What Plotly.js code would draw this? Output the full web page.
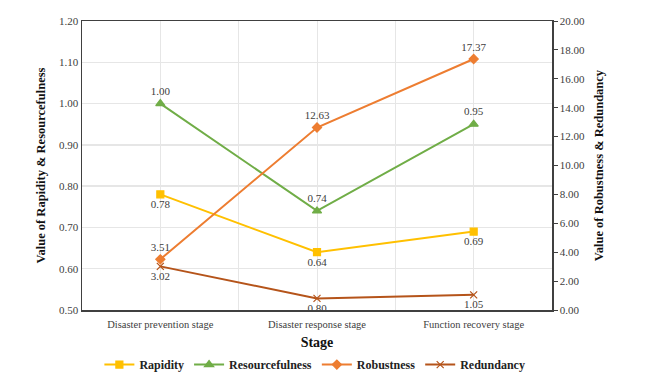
<!DOCTYPE html>
<html>
<head>
<meta charset="utf-8">
<script src="https://cdn.plot.ly/plotly-3.0.1.min.js"></script>
<style>body{margin:0;padding:0;background:#fff;}#chart{width:656px;height:381px;}</style>
</head>
<body>
<div id="chart"></div>
<script>
const stages = ["Disaster prevention stage", "Disaster response stage", "Function recovery stage"];
const stagePos = [0, 1, 2];
const rapidity = [0.78, 0.64, 0.69];
const resourcefulness = [1.00, 0.74, 0.95];
const robustness = [3.51, 12.63, 17.37];
const redundancy = [3.02, 0.80, 1.05];
const leftTicks = [0.5, 0.6, 0.7, 0.8, 0.9, 1.0, 1.1, 1.2];
const rightTicks = [0, 2, 4, 6, 8, 10, 12, 14, 16, 18, 20];

const fmt = v => v.toFixed(2);
const labelFont = {family: "Liberation Serif", size: 11, color: "#404040"};

function series(name, y, color, symbol, pos, axis, msize) {
  return {
    x: stagePos, y: y, name: name, type: "scatter", mode: "lines+markers+text",
    yaxis: axis,
    line: {color: color, width: 2},
    marker: {color: color, symbol: symbol, size: msize, line: {color: color, width: 1.2}},
    text: y.map(fmt), textposition: pos, textfont: labelFont,
    cliponaxis: false
  };
}

const data = [
  series("Rapidity", rapidity, "#FFC000", "square", "bottom center", "y", 7),
  series("Resourcefulness", resourcefulness, "#70AD47", "triangle-up", "top center", "y", 8),
  series("Robustness", robustness, "#ED7D31", "diamond", "top center", "y2", 7),
  series("Redundancy", redundancy, "#B5541A", "x-thin-open", "bottom center", "y2", 7)
];

const tickFont = {family: "Liberation Serif", size: 11, color: "#404040"};
const xTickFont = {family: "Liberation Serif", size: 10.5, color: "#404040"};
const layout = {
  width: 656, height: 381,
  margin: {l: 82, r: 104, t: 21, b: 71},
  paper_bgcolor: "#fff", plot_bgcolor: "#fff",
  showlegend: true,
  legend: {orientation: "h", x: 0.48, xanchor: "center", xref: "container",
    y: 0.005, yanchor: "bottom", yref: "container",
    font: {family: "Liberation Serif", size: 12, color: "#222", weight: "bold"},
    itemwidth: 30, tracegroupgap: 0},
  xaxis: {
    range: [-0.5, 2.5], tickvals: stagePos, ticktext: stages,
    showgrid: true, gridcolor: "#e6e6e6", gridwidth: 1,
    minor: {tickvals: [0.5, 1.5], showgrid: true, gridcolor: "#e6e6e6", gridwidth: 1, ticklen: 0},
    showline: true, linecolor: "#404040", linewidth: 1.5, mirror: true,
    ticks: "", tickfont: xTickFont, zeroline: false, automargin: false, ticklabelstandoff: 4,
    title: {text: "Stage", font: {family: "Liberation Serif", size: 14, color: "#111", weight: "bold"}, standoff: 10}
  },
  yaxis: {
    range: [0.5, 1.2], tickvals: leftTicks, ticktext: leftTicks.map(fmt),
    showgrid: true, gridcolor: "#e6e6e6", gridwidth: 1.5,
    showline: true, linecolor: "#404040", linewidth: 1.5,
    ticks: "", tickfont: tickFont, zeroline: false, automargin: false,
    title: {text: "Value of Rapidity & Resourcefulness", font: {family: "Liberation Serif", size: 12.5, color: "#111", weight: "bold"}, standoff: 10}
  },
  yaxis2: {
    range: [0, 20], tickvals: rightTicks, ticktext: rightTicks.map(fmt),
    overlaying: "y", side: "right", showgrid: false,
    showline: true, linecolor: "#404040", linewidth: 1.5,
    ticks: "outside", ticklen: 4, tickcolor: "#404040", tickfont: tickFont, zeroline: false, automargin: false,
    title: {text: "Value of Robustness & Redundancy", font: {family: "Liberation Serif", size: 12.5, color: "#111", weight: "bold"}, standoff: 10}
  }
};

Plotly.newPlot("chart", data, layout, {staticPlot: true, displayModeBar: false});
</script>
</body>
</html>
